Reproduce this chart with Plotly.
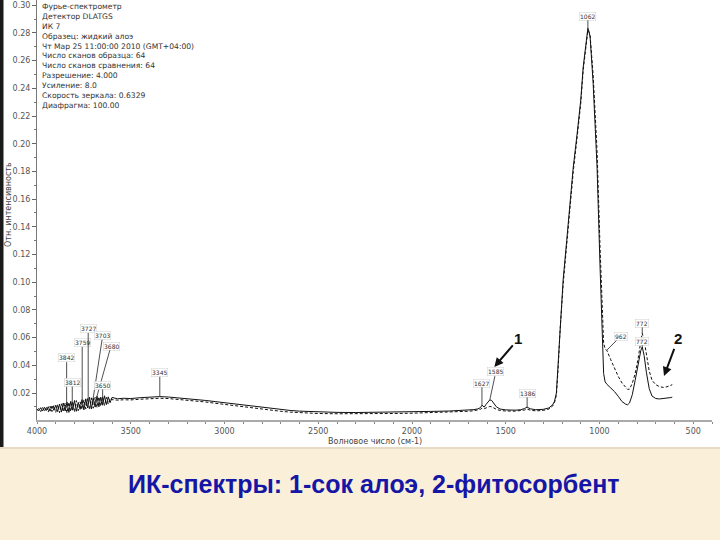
import numpy as np
import plotly.graph_objects as go

# ---------------- data ----------------
wn_noise = [4000, 3990, 3980, 3970, 3960, 3950, 3940, 3930, 3920, 3910, 3900,
            3890, 3880, 3870, 3860, 3850, 3840, 3830, 3820, 3810, 3800,
            3790, 3780, 3770, 3760, 3750, 3740, 3730, 3720, 3710, 3700,
            3690, 3680, 3670, 3660, 3650, 3640, 3630, 3620, 3610, 3600]
wn_rest = [3570, 3540, 3500, 3450, 3400, 3345, 3300, 3250, 3200, 3150, 3100, 3050,
           3000, 2950, 2900, 2850, 2800, 2750, 2700, 2650, 2600, 2550, 2500, 2400,
           2300, 2200, 2100, 2000, 1900, 1800, 1750, 1700, 1670, 1650, 1635, 1627,
           1615, 1605, 1595, 1585, 1575, 1565, 1550, 1530, 1500, 1450, 1420, 1400,
           1386, 1370, 1340, 1300, 1270, 1250, 1240, 1230, 1220, 1210, 1194, 1175,
           1157, 1140, 1119, 1100, 1087, 1075, 1068, 1062, 1056, 1050, 1034, 1013,
           997, 985, 978, 970, 960, 940, 920, 900, 880, 860, 850, 840, 825, 810,
           795, 780, 772, 762, 750, 735, 720, 700, 680, 660, 640, 620, 612]

aloe_noise = [0.0082, 0.0072, 0.0094, 0.0070, 0.0097, 0.0074, 0.0101, 0.0069, 0.0106, 0.0075, 0.0112,
              0.0066, 0.0120, 0.0062, 0.0128, 0.0070, 0.0134, 0.0060, 0.0140, 0.0076, 0.0146,
              0.0068, 0.0132, 0.0082, 0.0152, 0.0078, 0.0158, 0.0092, 0.0170, 0.0084, 0.0162,
              0.0098, 0.0178, 0.0100, 0.0170, 0.0112, 0.0180, 0.0116, 0.0172, 0.0130, 0.0168]
aloe_rest = [0.0158, 0.0162, 0.0160, 0.0166, 0.0170, 0.0174, 0.0171, 0.0166, 0.0160, 0.0153, 0.0146, 0.0138,
             0.0130, 0.0122, 0.0113, 0.0104, 0.0095, 0.0087, 0.0080, 0.0074, 0.0069, 0.0066, 0.0063, 0.0060,
             0.0059, 0.0060, 0.0062, 0.0064, 0.0067, 0.0070, 0.0073, 0.0077, 0.0080, 0.0085, 0.0094, 0.0112,
             0.0098, 0.0118, 0.0135, 0.0150, 0.0146, 0.0128, 0.0100, 0.0084, 0.0078, 0.0076, 0.0079, 0.0088,
             0.0098, 0.0086, 0.0079, 0.0082, 0.0092, 0.0115, 0.0140, 0.0200, 0.0420, 0.0700, 0.1016, 0.1300,
             0.1590, 0.1830, 0.2077, 0.2316, 0.2554, 0.2710, 0.2790, 0.2835, 0.2810, 0.2770, 0.2438, 0.1832,
             0.1110, 0.0600, 0.0340, 0.0280, 0.0262, 0.0236, 0.0210, 0.0176, 0.0138, 0.0119, 0.0115, 0.0128, 0.0188, 0.0290,
             0.0400, 0.0505, 0.0532, 0.0470, 0.0350, 0.0232, 0.0178, 0.0160, 0.0157, 0.0159, 0.0162, 0.0167, 0.0170]

sorb_noise = [0.0075, 0.0088, 0.0066, 0.0095, 0.0068, 0.0100, 0.0063, 0.0104, 0.0066, 0.0110, 0.0060,
              0.0117, 0.0058, 0.0122, 0.0064, 0.0128, 0.0056, 0.0133, 0.0066, 0.0139, 0.0062,
              0.0145, 0.0072, 0.0136, 0.0082, 0.0150, 0.0085, 0.0160, 0.0080, 0.0165, 0.0090,
              0.0170, 0.0095, 0.0172, 0.0104, 0.0175, 0.0110, 0.0168, 0.0120, 0.0162, 0.0152]
sorb_rest = [0.0148, 0.0151, 0.0150, 0.0155, 0.0159, 0.0162, 0.0160, 0.0155, 0.0149, 0.0142, 0.0135, 0.0126,
             0.0117, 0.0108, 0.0099, 0.0090, 0.0082, 0.0075, 0.0068, 0.0062, 0.0057, 0.0054, 0.0052, 0.0050,
             0.0049, 0.0050, 0.0052, 0.0054, 0.0057, 0.0061, 0.0064, 0.0068, 0.0072, 0.0076, 0.0082, 0.0090,
             0.0086, 0.0092, 0.0098, 0.0103, 0.0100, 0.0092, 0.0082, 0.0074, 0.0070, 0.0069, 0.0071, 0.0077,
             0.0084, 0.0076, 0.0071, 0.0074, 0.0084, 0.0106, 0.0130, 0.0185, 0.0390, 0.0660, 0.0980, 0.1270,
             0.1560, 0.1800, 0.2050, 0.2290, 0.2530, 0.2690, 0.2770, 0.2820, 0.2805, 0.2780, 0.2500, 0.1950,
             0.1250, 0.0780, 0.0560, 0.0520, 0.0505, 0.0440, 0.0375, 0.0320, 0.0272, 0.0238, 0.0226, 0.0228, 0.0270, 0.0340,
             0.0440, 0.0570, 0.0632, 0.0580, 0.0465, 0.0360, 0.0292, 0.0260, 0.0246, 0.0240, 0.0245, 0.0254, 0.0260]

wn_all = wn_noise + wn_rest
aloe = aloe_noise + aloe_rest
sorb = sorb_noise + sorb_rest

# peak labels: wavenumber, label text, which curve (1/2), leader offsets (px)
peak_wn = [3842, 3812, 3759, 3727, 3703, 3680, 3650, 3345, 1627, 1585, 1386, 1062, 962, 772, 772]
peak_txt = ["3842", "3812", "3759", "3727", "3703", "3680", "3650", "3345", "1627", "1585", "1386", "1062", "962", "772", "772"]
peak_curve = [1, 1, 1, 1, 1, 1, 1, 1, 1, 1, 1, 1, 2, 2, 1]
peak_ax = [0, 0, 0, 0, 10, 14, 0, 0, 0, 6, 0, 0, 14, 0, 0]
peak_ay = [-46, -26, -58, -76, -66, -50, -20, -24, -22, -28, -14, -12, -14, -10, -6]

ticks_x = [4000, 3500, 3000, 2500, 2000, 1500, 1000, 500]

meta_lines = ["Фурье-спектрометр",
              "Детектор DLATGS",
              "ИК 7",
              "Образец: жидкий алоэ",
              "Чт Мар 25 11:00:00 2010 (GMT+04:00)",
              "Число сканов образца: 64",
              "Число сканов сравнения: 64",
              "Разрешение: 4.000",
              "Усиление: 8.0",
              "Скорость зеркала: 0.6329",
              "Диафрагма: 100.00"]

caption = "ИК-спектры: 1-сок алоэ, 2-фитосорбент"
x_title = "Волновое число (см-1)"
y_title = "Отн. интенсивность"

# ---------------- figure ----------------
fig = go.Figure()
fig.add_trace(go.Scatter(x=wn_all, y=sorb, mode="lines", name="2",
                         line=dict(color="#111", width=1, dash="3px,2px")))
fig.add_trace(go.Scatter(x=wn_all, y=aloe, mode="lines", name="1",
                         line=dict(color="#111", width=1)))

xs = np.array(wn_all[::-1], dtype=float)
ya = np.array(aloe[::-1]); ys = np.array(sorb[::-1])
ann = []
for w, t, c, axo, ayo in zip(peak_wn, peak_txt, peak_curve, peak_ax, peak_ay):
    yv = float(np.interp(w, xs, ya if c == 1 else ys))
    ann.append(dict(x=w, y=yv, xref="x", yref="y", text=t, showarrow=True,
                    arrowhead=0, arrowwidth=0.8, arrowcolor="#222", ax=axo, ay=ayo,
                    font=dict(size=6, color="#333", family="DejaVu Sans"),
                    bgcolor="rgba(255,255,255,0.9)", bordercolor="#cfcfcf",
                    borderwidth=0.5, borderpad=0.5))

W, H = 720, 540
L, R, T, B = 37, 8, 0, 120
pw, ph = W - L - R, H - T - B

def px(xp):
    return (xp - L) / pw

def py(yp):
    return (H - B - yp) / ph

ann.append(dict(x=px(40), y=py(0), xref="paper", yref="paper", xanchor="left", yanchor="top",
                align="left", showarrow=False, text="<br>".join(meta_lines),
                font=dict(size=7.6, color="#333", family="DejaVu Sans")))
ann.append(dict(x=px(8), y=py(205), xref="paper", yref="paper", textangle=-90,
                xanchor="center", yanchor="middle",
                showarrow=False, text=y_title, font=dict(size=8, color="#444", family="DejaVu Sans")))
ann.append(dict(x=px(375), y=py(441), xref="paper", yref="paper", showarrow=False,
                xanchor="center", yanchor="middle",
                text=x_title, font=dict(size=8, color="#444", family="DejaVu Sans")))
ann.append(dict(x=px(126), y=py(484), xref="paper", yref="paper", xanchor="left", yanchor="middle",
                showarrow=False, text="<b>" + caption + "</b>",
                font=dict(size=25, color="#1616A6", family="Liberation Sans, Arial")))
# arrows "1" and "2"
ann.append(dict(x=1561, y=0.0388, xref="x", yref="y", text="<b>1</b>", showarrow=True,
                arrowhead=2, arrowsize=0.9, arrowwidth=2, arrowcolor="#111", ax=24, ay=-28,
                font=dict(size=15, color="#111", family="Liberation Sans, Arial")))
ann.append(dict(x=656, y=0.0323, xref="x", yref="y", text="<b>2</b>", showarrow=True,
                arrowhead=2, arrowsize=0.9, arrowwidth=2, arrowcolor="#111", ax=14, ay=-37,
                font=dict(size=15, color="#111", family="Liberation Sans, Arial")))

shapes = [
    dict(type="rect", xref="paper", yref="paper", x0=px(0), x1=px(720), y0=py(447), y1=py(0),
         fillcolor="white", line=dict(width=0), layer="below"),
    dict(type="rect", xref="paper", yref="paper", x0=px(0), x1=px(3.5), y0=py(447), y1=py(0),
         fillcolor="#1a1a1a", line=dict(width=0), layer="below"),
    dict(type="line", xref="paper", yref="paper", x0=px(0), x1=px(720), y0=py(448), y1=py(448),
         line=dict(color="#e6dcc6", width=2), layer="below"),
]

fig.update_layout(
    width=W, height=H, margin=dict(l=L, r=R, t=T, b=B, autoexpand=False),
    paper_bgcolor="#FAF0DA", plot_bgcolor="white", showlegend=False,
    annotations=ann, shapes=shapes,
    xaxis=dict(range=[4000, 400], tickvals=ticks_x, ticks="outside", ticklen=2,
               tickcolor="#888", showline=True, linecolor="#aaa", linewidth=2,
               showgrid=False, zeroline=False, automargin=False,
               tickfont=dict(size=8, color="#555", family="DejaVu Sans"),
               minor=dict(dtick=100, tick0=0, ticks="outside", ticklen=2, tickcolor="#888")),
    yaxis=dict(range=[0.0005, 0.3038], dtick=0.02, tick0=0, tickformat=".2f",
               ticks="outside", ticklen=4, tickcolor="#666", showline=True,
               linecolor="#777", linewidth=1, showgrid=False, zeroline=False, automargin=False,
               tickfont=dict(size=8, color="#555", family="DejaVu Sans"),
               minor=dict(dtick=0.01, ticks="outside", ticklen=2, tickcolor="#777")),
)

fig.write_html("out.html", config={"displayModeBar": False},
               post_script="document.body.style.margin='0';document.body.style.padding='0';")
